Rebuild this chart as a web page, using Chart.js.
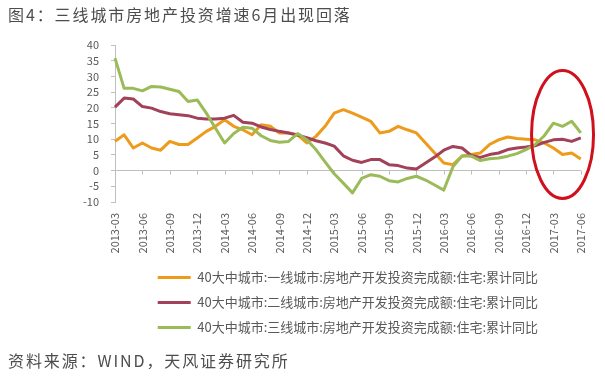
<!DOCTYPE html>
<html>
<head>
<meta charset="utf-8">
<script src="https://cdn.jsdelivr.net/npm/chart.js@4.4.1/dist/chart.umd.min.js"></script>
<style>
  body { margin: 0; background: #fff; font-family: "Noto Sans CJK SC", sans-serif; }
  #wrap { position: relative; width: 605px; height: 381px; overflow: hidden; }
  canvas { position: absolute; left: 0; top: 0; }
  .title { position: absolute; left: 8px; top: 4px; font-size: 16px; line-height: 20px; letter-spacing: 1.9px; color: #4d4d4d; white-space: nowrap; }
  .source { position: absolute; left: 8px; top: 350px; font-size: 16px; line-height: 20px; letter-spacing: 1.9px; color: #4d4d4d; white-space: nowrap; }
</style>
</head>
<body>
<div id="wrap">
  <canvas id="investChart" width="605" height="381"></canvas>
  <div class="title">图4：三线城市房地产投资增速6月出现回落</div>
  <div class="source">资料来源：WIND，天风证券研究所</div>
</div>
<script>
// months (category axis)
const months = [
  '2013-03','2013-04','2013-05','2013-06','2013-07','2013-08','2013-09','2013-10','2013-11','2013-12',
  '2014-01','2014-02','2014-03','2014-04','2014-05','2014-06','2014-07','2014-08','2014-09','2014-10','2014-11','2014-12',
  '2015-01','2015-02','2015-03','2015-04','2015-05','2015-06','2015-07','2015-08','2015-09','2015-10','2015-11','2015-12',
  '2016-01','2016-02','2016-03','2016-04','2016-05','2016-06','2016-07','2016-08','2016-09','2016-10','2016-11','2016-12',
  '2017-01','2017-02','2017-03','2017-04','2017-05','2017-06'
];

// 一线城市 (orange)
const tier1 = [9.3, 11.4, 7.2, 8.8, 7.2, 6.5, 9.3, 8.3, 8.3, 10.4,
  12.5, 14.1, 16.2, 14.1, 13.0, 11.4, 14.6, 14.1, 12.0, 12.0, 11.4, 8.8,
  10.9, 14.1, 18.3, 19.4, 18.3, 17.0, 15.7, 12.0, 12.5, 14.1, 13.0, 12.0,
  8.8, 5.6, 2.4, 1.9, 4.6, 5.1, 5.6, 8.3, 9.8, 10.7, 10.2, 10.0,
  9.8, 8.8, 7.2, 5.1, 5.6, 3.7];

// 二线城市 (red)
const tier2 = [20.2, 23.1, 22.8, 20.4, 19.9, 18.8, 18.1, 17.8, 17.5, 16.7,
  16.4, 16.4, 16.7, 17.6, 15.4, 15.1, 13.9, 13.1, 12.5, 12.0, 11.3, 10.5,
  9.5, 8.8, 7.8, 4.7, 3.3, 2.6, 3.5, 3.5, 1.9, 1.6, 0.8, 0.5,
  2.4, 4.3, 6.5, 7.7, 7.2, 4.8, 4.2, 5.1, 5.6, 6.7, 7.2, 7.5,
  7.9, 9.0, 9.8, 10.0, 9.3, 10.4];

// 三线城市 (green)
const tier3 = [35.8, 26.2, 26.2, 25.4, 26.8, 26.6, 25.9, 25.2, 22.0, 22.5,
  18.3, 13.5, 8.8, 11.8, 13.8, 13.5, 11.1, 9.6, 9.0, 9.3, 11.8, 9.8,
  6.7, 2.8, -1.0, -4.0, -7.1, -2.5, -1.3, -1.8, -3.2, -3.6, -2.5, -1.8,
  -3.0, -4.6, -6.2, 1.2, 4.7, 4.6, 3.2, 3.8, 4.0, 4.6, 5.4, 6.7,
  8.3, 11.1, 15.1, 14.1, 15.7, 12.0];

const seriesNames = [
  '40大中城市:一线城市:房地产开发投资完成额:住宅:累计同比',
  '40大中城市:二线城市:房地产开发投资完成额:住宅:累计同比',
  '40大中城市:三线城市:房地产开发投资完成额:住宅:累计同比'
];

const yTicks = { min: -10, max: 40, step: 5 };

// small tick marks on the zero line every quarter
const zeroTicks = {
  id: 'zeroTicks',
  beforeDatasetsDraw(chart) {
    const { ctx, scales: { x, y } } = chart;
    const y0 = y.getPixelForValue(0);
    ctx.save();
    ctx.strokeStyle = '#BFBFBF';
    ctx.lineWidth = 1;
    months.forEach((m, i) => {
      if (i % 3 !== 0) return;
      const px = Math.round(x.getPixelForValue(i)) + 0.5;
      ctx.beginPath();
      ctx.moveTo(px, y0);
      ctx.lineTo(px, y0 + 4);
      ctx.stroke();
    });
    ctx.restore();
  }
};

// red ellipse highlighting the last months
const ellipseNote = {
  id: 'ellipseNote',
  afterDatasetsDraw(chart) {
    const { ctx, scales: { x, y } } = chart;
    const cx = x.getPixelForValue(49.0);
    const cy = y.getPixelForValue(11.5);
    ctx.save();
    ctx.strokeStyle = '#D0101C';
    ctx.lineWidth = 3;
    ctx.beginPath();
    ctx.ellipse(cx, cy, 31, 64, 0, 0, Math.PI * 2);
    ctx.stroke();
    ctx.restore();
  }
};

const ctx = document.getElementById('investChart');

const investChart = new Chart(ctx, {
  type: 'line',
  data: {
    labels: months,
    datasets: [
      { label: seriesNames[0], data: tier1, borderColor: '#EE9A1A', backgroundColor: '#EE9A1A', borderWidth: 3, order: 3 },
      { label: seriesNames[1], data: tier2, borderColor: '#A2415A', backgroundColor: '#A2415A', borderWidth: 3, order: 2 },
      { label: seriesNames[2], data: tier3, borderColor: '#9BBB59', backgroundColor: '#9BBB59', borderWidth: 3, order: 1 }
    ]
  },
  options: {
    responsive: false,
    animation: false,
    devicePixelRatio: 1,
    elements: {
      line: { tension: 0, fill: false, borderJoinStyle: 'round' },
      point: { radius: 0, hoverRadius: 0 }
    },
    layout: { padding: { top: 45, right: 23, left: 0, bottom: 37 } },
    scales: {
      x: {
        grid: { display: false, drawTicks: false },
        border: { display: false },
        ticks: {
          autoSkip: false,
          maxRotation: 90,
          minRotation: 90,
          padding: 11,
          color: '#595959',
          font: { family: 'Noto Sans CJK SC', size: 11 },
          callback: (v, i) => (i % 3 === 0 ? months[i] : '')
        },
        afterFit: (s) => { s.height = 57; }
      },
      y: {
        min: yTicks.min,
        max: yTicks.max,
        ticks: {
          stepSize: yTicks.step,
          autoSkip: false,
          padding: 12,
          color: '#595959',
          font: { family: 'Noto Sans CJK SC', size: 11 }
        },
        grid: {
          color: (c) => (c.tick && c.tick.value === 0 ? '#BFBFBF' : 'rgba(0,0,0,0)'),
          tickColor: '#BFBFBF',
          tickLength: 4
        },
        border: { color: '#BFBFBF' },
        afterFit: (s) => { s.width = 115; }
      }
    },
    plugins: {
      legend: {
        position: 'bottom',
        fullSize: false,
        labels: {
          usePointStyle: true,
          pointStyle: 'line',
          pointStyleWidth: 33,
          padding: 12,
          color: '#595959',
          font: { family: 'Noto Sans CJK SC', size: 13 },
          sort: (a, b) => a.datasetIndex - b.datasetIndex
        }
      },
      tooltip: { enabled: false }
    }
  },
  plugins: [zeroTicks, ellipseNote]
});
</script>
</body>
</html>
